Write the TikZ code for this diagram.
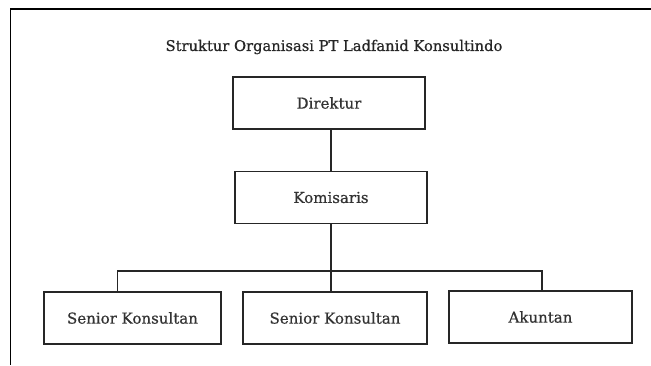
\documentclass[tikz,border=0pt]{standalone}
\usepackage{fontspec}
\setmainfont{DejaVu Serif}
\newfontfamily\hurufagak{DejaVu Serif}[FakeBold=0.7]
\usepackage{tikz}

\begin{document}
\begin{tikzpicture}[
  x=1pt, y=-1pt,
  jabatan/.style={
    draw=black!85,
    line width=1.4pt,
    font=\hurufagak\fontsize{15}{17}\selectfont,
    text=black!80,
    inner sep=0pt,
    minimum height=52pt},
  garis/.style={draw=black!85, line width=1.2pt}]

\useasboundingbox (0,0) rectangle (651,365);

% bingkai
\draw[line width=1.2pt] (651,9) -- (10.5,9) -- (10.5,365);

\node[font=\hurufagak\fontsize{14.7}{17}\selectfont, text=black!85] (judul) at (334,47)
  {Struktur Organisasi PT Ladfanid Konsultindo};

\node[jabatan, minimum width=192pt] (direktur) at (329,103) {Direktur};
\node[jabatan, minimum width=192pt] (komisaris) at (331,197.5) {Komisaris};

\node[jabatan, minimum width=177pt] (senior1) at (132.5,318) {Senior Konsultan};
\node[jabatan, minimum width=184pt] (senior2) at (335,318) {Senior Konsultan};
\node[jabatan, minimum width=183pt] (akuntan) at (540.5,317) {Akuntan};

\coordinate (cabangkiri) at (117.5,271);
\coordinate (cabangkanan) at (542,271);

\draw[garis] (komisaris.north |- direktur.south) -- (komisaris.north);
\draw[garis] (senior2.north -| komisaris.south) -- (komisaris.south);
\draw[garis] (cabangkiri |- senior1.north) -- (cabangkiri)
  -- (cabangkanan) -- (cabangkanan |- akuntan.north);
\end{tikzpicture}
\end{document}
